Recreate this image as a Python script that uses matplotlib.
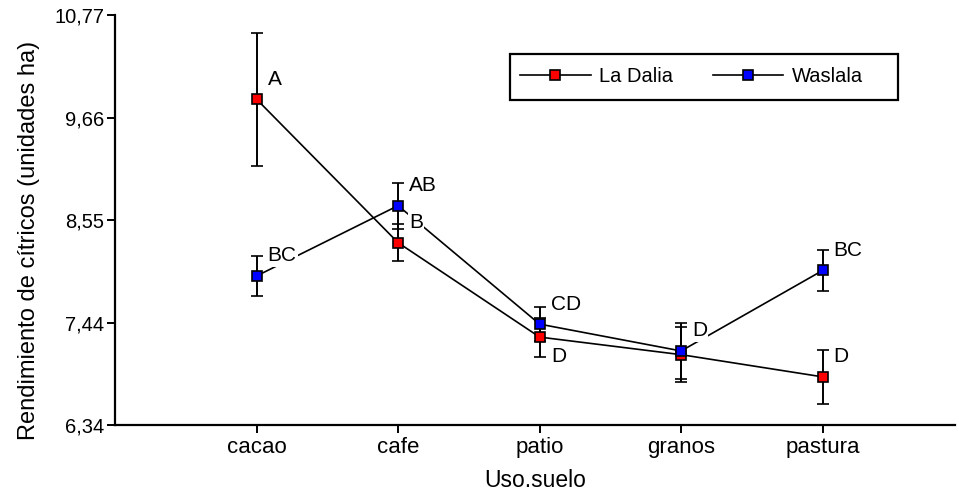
import matplotlib
matplotlib.use("Agg")
import matplotlib.pyplot as plt
from matplotlib.lines import Line2D
from matplotlib.patches import Rectangle

plt.rcParams['font.family'] = ['Liberation Sans', 'DejaVu Sans']

categories = ["cacao", "cafe", "patio", "granos", "pastura"]
dalia = [9.86, 8.31, 7.29, 7.10, 6.86]
dalia_err = [0.72, 0.20, 0.21, 0.30, 0.29]
waslala = [7.95, 8.71, 7.43, 7.14, 8.01]
waslala_err = [0.22, 0.25, 0.18, 0.30, 0.22]
dalia_letters = ["A", "B", "D", "", "D"]
waslala_letters = ["BC", "AB", "CD", "D", "BC"]
ytick_vals = [6.34, 7.44, 8.55, 9.66, 10.77]
ytick_labels = ["6,34", "7,44", "8,55", "9,66", "10,77"]

fig = plt.figure(figsize=(9.59, 4.98), dpi=100)
ax = fig.add_axes([115/959, 1-425/498, 840/959, 410/498])

x = list(range(1, len(categories)+1))
kw = dict(color='black', lw=1.2, elinewidth=1.4, capsize=4.5, capthick=1.4,
          marker='s', markersize=7.5, markeredgecolor='black', markeredgewidth=1.2)
ax.errorbar(x, dalia, yerr=dalia_err, markerfacecolor='#ff0000', zorder=3, **kw)
ax.errorbar(x, waslala, yerr=waslala_err, markerfacecolor='#0000ff', zorder=3, **kw)

px = 0.72
def lab(xi, yi, s, dx, dy):
    if not s:
        return
    ax.annotate(s, (xi, yi), xytext=(dx*px, dy*px), textcoords='offset points',
                ha='left', va='center', fontsize=15, zorder=5,
                bbox=dict(boxstyle='square,pad=0.05', fc='white', ec='none'))

for i in range(len(categories)):
    if categories[i] == 'patio':
        lab(x[i], dalia[i], dalia_letters[i], 12, -19)
    else:
        lab(x[i], dalia[i], dalia_letters[i], 11, 20)
    lab(x[i], waslala[i], waslala_letters[i], 11, 20)

ax.set_xlim(0, 5.935)
ax.set_ylim(6.34, 10.77)
ax.set_xticks(x)
ax.set_xticklabels(categories, fontsize=16)
ax.set_yticks(ytick_vals)
ax.set_yticklabels(ytick_labels, fontsize=14.5)
ax.tick_params(axis='y', direction='out', length=6, width=1.4, pad=1.5)
ax.tick_params(axis='x', direction='out', length=6, width=1.4, pad=2.5)
for s in ['top', 'right']:
    ax.spines[s].set_visible(False)
for s in ['left', 'bottom']:
    ax.spines[s].set_linewidth(1.6)
ax.set_xlabel("Uso.suelo", fontsize=16.5, labelpad=8)
ax.set_ylabel("Rendimiento de cítricos (unidades ha)", fontsize=17)
ax.yaxis.set_label_coords(-0.089, 0.449)

handles = [
    Line2D([], [], color='black', lw=1.2, marker='s', markersize=7.5,
           markerfacecolor='#ff0000', markeredgecolor='black', markeredgewidth=1.2),
    Line2D([], [], color='black', lw=1.2, marker='s', markersize=7.5,
           markerfacecolor='#0000ff', markeredgecolor='black', markeredgewidth=1.2),
]
leg = ax.legend(handles, ["La Dalia", "Waslala"], loc='center left',
                bbox_to_anchor=(510/959, 1-77/498), bbox_transform=fig.transFigure,
                ncol=2, fontsize=14.5, frameon=False, handlelength=3.5,
                borderaxespad=0, borderpad=0.5, handletextpad=0.4, columnspacing=2.0)
ax.add_patch(Rectangle((510/959, 1-100/498), 388/959, 46/498, transform=fig.transFigure,
                       fill=False, ec='black', lw=1.6, clip_on=False, zorder=6))

fig.savefig("out.png", dpi=100)
